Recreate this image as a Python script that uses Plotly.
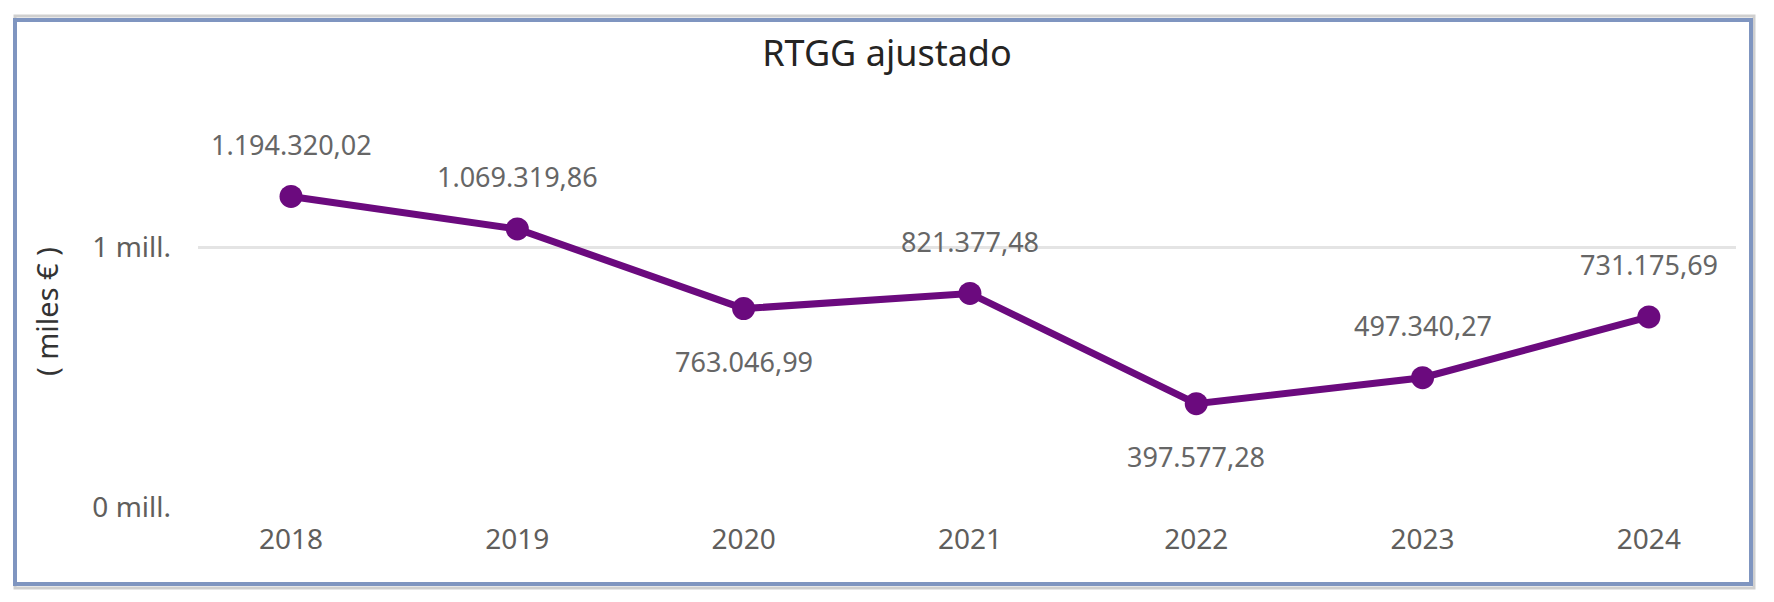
import plotly.graph_objects as go

years = ["2018", "2019", "2020", "2021", "2022", "2023", "2024"]
values = [1194320.02, 1069319.86, 763046.99, 821377.48, 397577.28, 497340.27, 731175.69]
label_side = ["above", "above", "below", "above", "below", "above", "above"]
y_tick_vals = [0, 1000000]
y_tick_text = ["0 mill.", "1 mill."]
title_text = "RTGG ajustado"
y_title = "( miles € )"


def fmt_es(v):
    s = f"{v:,.2f}"
    return s.replace(",", "X").replace(".", ",").replace("X", ".")


# page body has an 8px default margin: figure spans page px 8..1774, 8..602
OFF = 8
W, H = 1774 - OFF, 602 - OFF
L = 198 - OFF
pw = 1538
R = W - L - pw
T = 100 - OFF
B = H - (507 - OFF)
ph = H - T - B

FONT = "Noto Sans"
purple = "#6b0a7e"

fig = go.Figure()
fig.add_trace(go.Scatter(
    x=list(range(len(years))), y=values, mode="lines+markers",
    line=dict(color=purple, width=7),
    marker=dict(color=purple, size=23),
    hoverinfo="skip", showlegend=False,
))

annotations = []
for i, (v, side) in enumerate(zip(values, label_side)):
    annotations.append(dict(
        x=i, y=v, xref="x", yref="y", text=fmt_es(v), showarrow=False,
        yshift=52 if side == "above" else -53,
        font=dict(family=FONT, size=27, color="#666666"),
    ))


def px2paper_x(px):
    return (px - OFF - L) / pw


def px2paper_y(py):
    return (H - B - (py - OFF)) / ph


annotations.append(dict(
    x=px2paper_x(46), y=px2paper_y(312), xref="paper", yref="paper",
    xanchor="center", yanchor="middle",
    text=y_title, textangle=-90, showarrow=False,
    font=dict(family=FONT, size=29, color="#333333"),
))

shapes = [
    dict(type="rect", xref="paper", yref="paper",
         x0=px2paper_x(15), x1=px2paper_x(1754), y0=px2paper_y(588), y1=px2paper_y(16),
         line=dict(color="#cfcfcf", width=3), layer="below"),
    dict(type="rect", xref="paper", yref="paper",
         x0=px2paper_x(15), x1=px2paper_x(1751), y0=px2paper_y(584), y1=px2paper_y(20),
         line=dict(color="#7f95c0", width=4), layer="below"),
]

fig.update_layout(
    width=W, height=H,
    margin=dict(l=L, r=R, t=T, b=B, pad=0),
    paper_bgcolor="white", plot_bgcolor="white",
    title=dict(text=title_text, x=(887 - OFF) / W, y=1 - (53 - OFF) / H,
               xanchor="center", yanchor="middle",
               font=dict(family=FONT, size=36, color="#252423")),
    xaxis=dict(
        tickmode="array", tickvals=list(range(len(years))), ticktext=years,
        range=[-0.411, 6.385], showgrid=False, zeroline=False, showline=False,
        tickfont=dict(family=FONT, size=28, color="#605e5c"),
        ticks="", ticklabelstandoff=13,
    ),
    yaxis=dict(
        tickmode="array", tickvals=y_tick_vals, ticktext=y_tick_text,
        range=[0, ph / 260e-6], showgrid=True, gridcolor="#e4e4e4", gridwidth=3,
        zeroline=False, showline=False,
        tickfont=dict(family=FONT, size=28, color="#605e5c"),
        ticks="", ticklabelstandoff=26,
    ),
    annotations=annotations,
    shapes=shapes,
)

fig.write_html("out.html")
